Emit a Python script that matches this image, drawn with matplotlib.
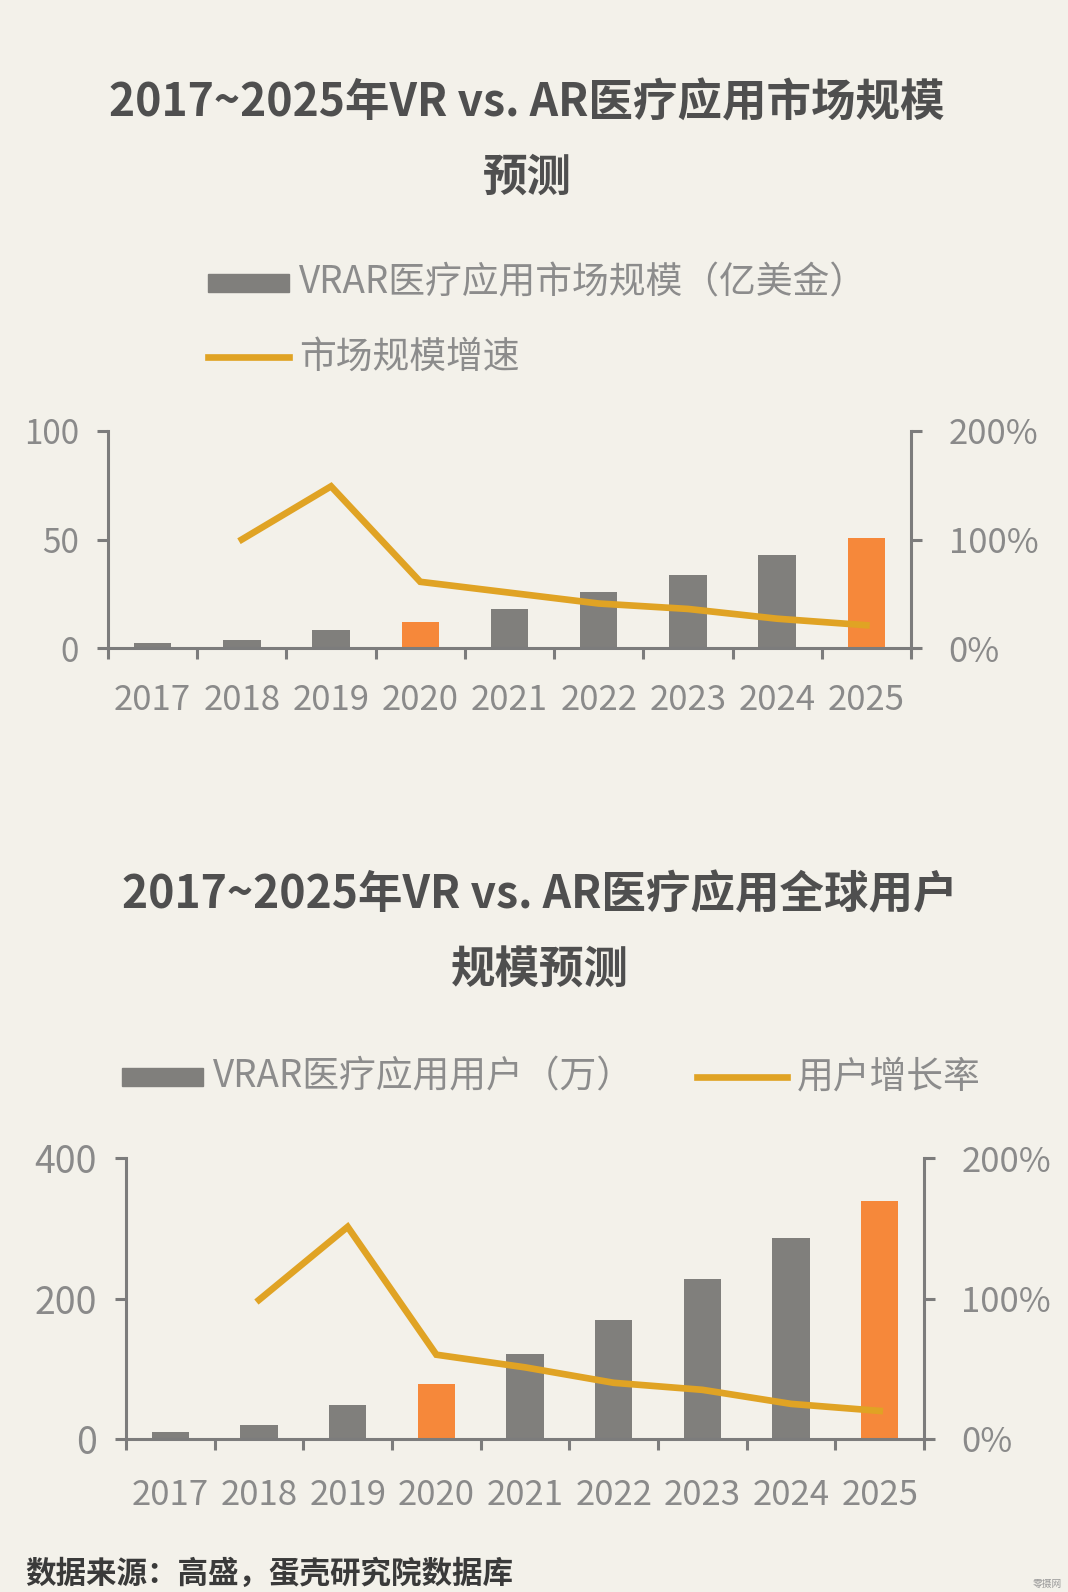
import numpy as np
import matplotlib
matplotlib.use('Agg')
import matplotlib.pyplot as plt
from matplotlib.patches import Rectangle
from matplotlib.lines import Line2D
from matplotlib.ticker import FuncFormatter

plt.rcParams['font.family'] = ['Noto Sans CJK SC', 'DejaVu Sans']

# ---------------- data ----------------
years = ['2017', '2018', '2019', '2020', '2021', '2022', '2023', '2024', '2025']
highlight_years = ['2020', '2025']

market_size = [2.3, 3.8, 8.5, 11.8, 18.0, 25.7, 33.5, 42.9, 50.6]          # 亿美金
market_growth = [np.nan, 1.00, 1.49, 0.61, 0.51, 0.41, 0.36, 0.27, 0.21]   # 增速
market_yticks = [0, 50, 100]

users = [10, 20, 49, 78, 121, 170, 228, 286, 339]                          # 万
user_growth = [np.nan, 0.99, 1.51, 0.60, 0.51, 0.40, 0.35, 0.25, 0.20]     # 增长率
user_yticks = [0, 200, 400]

growth_ticks = [0, 1, 2]

title1 = ['2017~2025年VR vs. AR医疗应用市场规模', '预测']
title2 = ['2017~2025年VR vs. AR医疗应用全球用户', '规模预测']
legend1 = ['VRAR医疗应用市场规模（亿美金）', '市场规模增速']
legend2 = ['VRAR医疗应用用户（万）', '用户增长率']
source = '数据来源：高盛，蛋壳研究院数据库'

# ---------------- style ----------------
BG = '#F3F1EA'
GRAY = '#807F7C'
ORANGE = '#F6883A'
LINE = '#E0A324'
SPINE = '#7C7C7C'
TICK = '#8A8A8A'
TITLE = '#4F4F4F'
LEG = '#8C8C8C'

W, H = 1068, 1592
fig = plt.figure(figsize=(W / 100, H / 100), dpi=100, facecolor=BG)


def fx(x):
    return x / W


def fy(y):
    return 1 - y / H


def make_chart(left, right, top, bottom, sizes, growth, yticks, xpad, lsize, rsize):
    ax = fig.add_axes([fx(left), fy(bottom), fx(right - left), (bottom - top) / H])
    ax.set_facecolor('none')
    x = np.arange(len(years))
    colors = [ORANGE if y in highlight_years else GRAY for y in years]
    ax.bar(x, sizes, width=0.42, color=colors, zorder=2)
    ax.set_xlim(-0.5, len(years) - 0.5)
    ax.set_ylim(yticks[0], yticks[-1])
    ax.set_xticks(x)
    ax.set_xticklabels(years)
    ax.set_xticks(np.arange(-0.5, len(years)), minor=True)
    ax.tick_params(axis='x', which='major', length=0, pad=xpad, labelsize=25, labelcolor=TICK)
    ax.tick_params(axis='x', which='minor', length=8, width=2.2, color=SPINE)
    ax.set_yticks(yticks)
    ax.tick_params(axis='y', length=8, width=2.2, color=SPINE, pad=13, labelsize=lsize, labelcolor=TICK)
    for s in ['top', 'right']:
        ax.spines[s].set_visible(False)
    for s in ['left', 'bottom']:
        ax.spines[s].set_color(SPINE)
        ax.spines[s].set_linewidth(2.2)

    ax2 = ax.twinx()
    ax2.plot(x, growth, color=LINE, lw=4.8, solid_joinstyle='miter', zorder=3)
    ax2.set_ylim(0, 2)
    ax2.set_yticks(growth_ticks)
    ax2.yaxis.set_major_formatter(FuncFormatter(lambda v, p: f'{int(round(v * 100))}%'))
    ax2.tick_params(axis='y', length=8, width=2.2, color=SPINE, pad=19, labelsize=rsize, labelcolor=TICK)
    for s in ['top', 'left', 'bottom']:
        ax2.spines[s].set_visible(False)
    ax2.spines['right'].set_color(SPINE)
    ax2.spines['right'].set_linewidth(2.2)
    return ax, ax2


def legend_patch(x0, x1, y, text):
    fig.add_artist(Rectangle((fx(x0), fy(y + 9)), fx(x1 - x0), 18 / H,
                             transform=fig.transFigure, color=GRAY))
    fig.text(fx(x1 + 10), fy(y), text, fontsize=26.5, color=LEG, va='center', ha='left')


def legend_line(x0, x1, y, text):
    fig.add_artist(Line2D([fx(x0), fx(x1)], [fy(y), fy(y)], transform=fig.transFigure,
                          color=LINE, lw=4.8))
    fig.text(fx(x1 + 10), fy(y), text, fontsize=26.5, color=LEG, va='center', ha='left')


# ---------------- chart 1 ----------------
fig.text(fx(527), fy(104), title1[0], fontsize=32, fontweight='bold', color=TITLE, ha='center', va='center')
fig.text(fx(527), fy(178), title1[1], fontsize=32, fontweight='bold', color=TITLE, ha='center', va='center')
legend_patch(208, 289, 283, legend1[0])
legend_line(208, 289, 357, legend1[1])
make_chart(108, 911, 431, 648, market_size, market_growth, market_yticks, 25, 24, 25)

# ---------------- chart 2 ----------------
fig.text(fx(540), fy(896), title2[0], fontsize=32, fontweight='bold', color=TITLE, ha='center', va='center')
fig.text(fx(540), fy(971), title2[1], fontsize=32, fontweight='bold', color=TITLE, ha='center', va='center')
legend_patch(122, 203, 1077, legend2[0])
legend_line(697, 787, 1077, legend2[1])
make_chart(126, 924, 1158, 1439, users, user_growth, user_yticks, 28, 27, 25)

# ---------------- source ----------------
fig.text(fx(25), fy(1574), source, fontsize=22, fontweight='bold', color='#3A3A3A', ha='left', va='center')
fig.text(fx(1062), fy(1584), '零摄网', fontsize=7, color='#9A9A9A', ha='right', va='center')

fig.savefig('out.png', dpi=100, facecolor=BG)
